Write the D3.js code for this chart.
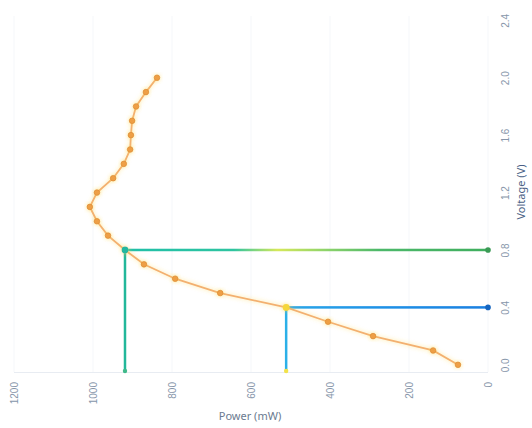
<!DOCTYPE html>
<html><head><meta charset="utf-8">
<script src="https://cdn.jsdelivr.net/npm/d3@7"></script>
<style>html,body{margin:0;padding:0;background:#fff;}svg{display:block;font-family:"Noto Sans",sans-serif;}</style>
</head><body>
<svg id="chart" width="532" height="428"></svg>
<script>
// Data (categories along the right axis, values along the bottom axis)
const voltages = [0.0,0.1,0.2,0.3,0.4,0.5,0.6,0.7,0.8,0.9,1.0,1.1,1.2,1.3,1.4,1.5,1.6,1.7,1.8,1.9,2.0];
const powers   = [76,139,291,405,511,678,792,871,919,962,990,1008,990,949,922,906,904,901,891,866,838];
const voltTicks = [0.0,0.4,0.8,1.2,1.6,2.0,2.4];
const powerTicks = [0,200,400,600,800,1000,1200];
const markIdx = [4, 8];
const titleValue = "Power (mW)";
const titleCat = "Voltage (V)";

const svg = d3.select("#chart");
const x = d3.scaleLinear().domain([0,1200]).range([488,14]);
const y = d3.scaleLinear().domain([-0.05,2.43]).range([372,16]);

const defs = svg.append("defs");
const glow = defs.append("filter").attr("id","glow").attr("x","-50%").attr("y","-50%").attr("width","200%").attr("height","200%");
glow.append("feGaussianBlur").attr("in","SourceAlpha").attr("stdDeviation",2.2).attr("result","b");
glow.append("feFlood").attr("flood-color","#ffd54a").attr("flood-opacity",0.6);
glow.append("feComposite").attr("in2","b").attr("operator","in").attr("result","s");
const m = glow.append("feMerge"); m.append("feMergeNode").attr("in","s"); m.append("feMergeNode").attr("in","SourceGraphic");

function grad(id, stops){
  const g = defs.append("linearGradient").attr("id",id).attr("gradientUnits","objectBoundingBox").attr("x1",0).attr("x2",1).attr("y1",0).attr("y2",0);
  stops.forEach(s=>g.append("stop").attr("offset",s[0]).attr("stop-color",s[1]));
}
grad("gGreen",[[0,"#20bfa8"],[0.3,"#2ec4a0"],[0.42,"#d6e85a"],[0.55,"#8fd46a"],[0.7,"#4cb86a"],[1,"#3fae5e"]]);
grad("gBlue",[[0,"#2aa6e8"],[0.5,"#1e90e6"],[1,"#1a7fe0"]]);

// faint grid
svg.append("g").selectAll("line").data(powerTicks).join("line")
  .attr("x1",d=>x(d)).attr("x2",d=>x(d)).attr("y1",16).attr("y2",372)
  .attr("stroke","#f5f7fa").attr("stroke-width",1);
svg.append("line").attr("x1",14).attr("x2",488).attr("y1",372.5).attr("y2",372.5).attr("stroke","#e8ecf2");

// value axis (bottom)
const xAxis = svg.append("g").attr("transform","translate(0,372)")
  .call(d3.axisBottom(x).tickValues(powerTicks).tickSize(0).tickFormat(d3.format("d")));
xAxis.select(".domain").remove();
xAxis.selectAll("text").attr("transform","rotate(-90)").attr("text-anchor","end")
  .attr("x",-10).attr("y",0).attr("dy","0.35em").attr("fill","#8796aa").attr("font-size",10);

// category axis (right)
const yAxis = svg.append("g").attr("transform","translate(488,0)")
  .call(d3.axisRight(y).tickValues(voltTicks).tickSize(0).tickFormat(d3.format(".1f")));
yAxis.select(".domain").remove();
yAxis.selectAll("text").attr("transform","rotate(-90)").attr("text-anchor","middle")
  .attr("x",0).attr("y",17).attr("dy","0.35em").attr("fill","#8796aa").attr("font-size",10);

svg.append("text").attr("x",250).attr("y",420).attr("text-anchor","middle")
  .attr("fill","#6b7b90").attr("font-size",11).text(titleValue);
svg.append("text").attr("transform","translate(525,192) rotate(-90)").attr("text-anchor","middle")
  .attr("fill","#4a5f85").attr("font-size",11).text(titleCat);

// mark lines
const markG = svg.append("g");
markIdx.forEach((i,k)=>{
  const px = x(powers[i]), py = y(voltages[i]);
  const hcol = k===0 ? "url(#gBlue)" : "url(#gGreen)";
  const vcol = k===0 ? "#2bb0e8" : "#22b79a";
  markG.append("rect").attr("x",px).attr("y",py-1.25).attr("width",x(0)-px).attr("height",2.5).attr("fill",hcol);
  markG.append("line").attr("x1",px).attr("x2",px).attr("y1",py).attr("y2",y.range()[0]-1)
    .attr("stroke",vcol).attr("stroke-width",2.5);
  markG.append("circle").attr("cx",x(0)).attr("cy",py).attr("r",2.8).attr("fill",k===0?"#1565c0":"#3a9a55");
  markG.append("circle").attr("cx",px).attr("cy",y.range()[0]-1).attr("r",2.2).attr("fill",k===0?"#f2e24a":"#3fb98a");
});

// curve
const line = d3.line().x((d,i)=>x(powers[i])).y((d,i)=>y(voltages[i]));
svg.append("path").datum(voltages).attr("d",line).attr("fill","none")
  .attr("stroke","#f3b070").attr("stroke-width",1.8).attr("filter","url(#glow)");
svg.append("g").selectAll("circle").data(voltages).join("circle")
  .attr("cx",(d,i)=>x(powers[i])).attr("cy",d=>y(d))
  .attr("r",(d,i)=>markIdx.includes(i)?3.4:2.8)
  .attr("fill",(d,i)=>markIdx.includes(i)?(i===4?"#f5d63a":"#22b7a0"):"#ee9f45")
  .attr("stroke",(d,i)=>markIdx.includes(i)?"none":"#dc8a35").attr("stroke-width",0.7)
  .attr("filter","url(#glow)");
</script>
</body></html>
